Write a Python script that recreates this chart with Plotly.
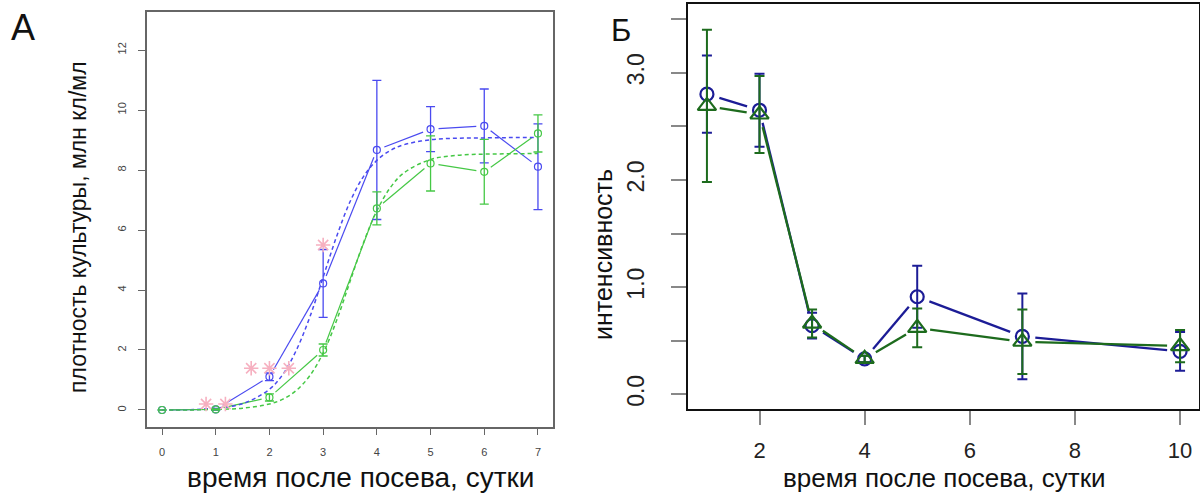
import math
import plotly.graph_objects as go

# ---------------- Panel A data ----------------
days_a = [0, 1, 2, 3, 4, 5, 6, 7]
blue_a = [0.0, 0.02, 1.11, 4.22, 8.67, 9.36, 9.47, 8.11]
blue_a_err = [0.0, 0.03, 0.13, 1.13, 2.32, 0.75, 1.23, 1.43]
green_a = [0.0, 0.02, 0.42, 2.0, 6.72, 8.22, 7.94, 9.22]
green_a_err = [0.0, 0.02, 0.12, 0.2, 0.55, 0.92, 1.08, 0.62]

fit_x = [0, 0.5, 1, 1.5, 2, 2.25, 2.5, 2.75, 3, 3.25, 3.5, 3.75, 4, 4.25, 4.5, 5, 5.5, 6, 6.5, 7]
blue_fit = [0.0, 0.01, 0.06, 0.21, 0.69, 1.19, 1.99, 3.09, 4.43, 5.78, 6.94, 7.78, 8.32, 8.65,
            8.84, 9.01, 9.06, 9.07, 9.08, 9.08]
green_fit = [0.0, 0.0, 0.02, 0.06, 0.20, 0.36, 0.65, 1.14, 1.90, 2.98, 4.28, 5.57, 6.64, 7.41,
             7.90, 8.35, 8.49, 8.53, 8.54, 8.55]

star_x = [0.82, 1.18, 1.66, 2.0, 2.36, 3.0]
star_y = [0.2, 0.2, 1.39, 1.39, 1.39, 5.5]

a_xticks = [0, 1, 2, 3, 4, 5, 6, 7]
a_yticks = [0, 2, 4, 6, 8, 10, 12]

# ---------------- Panel B data ----------------
days_b = [1, 2, 3, 4, 5, 7, 10]
blue_b = [2.80, 2.65, 0.64, 0.33, 0.91, 0.54, 0.40]
blue_b_err = [0.36, 0.34, 0.12, 0.03, 0.29, 0.40, 0.18]
green_b = [2.69, 2.61, 0.66, 0.33, 0.62, 0.49, 0.45]
green_b_err = [0.71, 0.36, 0.13, 0.03, 0.18, 0.30, 0.15]

b_xticks = [2, 4, 6, 8, 10]
b_yticks = [0, 0.5, 1, 1.5, 2, 2.5, 3, 3.5]
b_yticktext = ["0.0", "", "1.0", "", "2.0", "", "3.0", ""]

FONT = "Liberation Sans, Arial, sans-serif"
A_BLUE = "#4a4af0"
A_GREEN = "#45c845"
B_BLUE = "#1c1c96"
B_GREEN = "#1d6b1d"
PINK = "#f6b0c0"

W, H = 1200, 494

# axis geometry (pixels)
A_X0, A_X1, A_YB, A_YT = 147, 553, 427, 12
B_X0, B_X1, B_YB, B_YT = 688, 1199, 409.3, 4
A_XR, A_YR = [-0.28, 7.28], [-0.567, 13.267]
B_XR, B_YR = [0.64, 10.36], [-0.14, 3.641]


def scale(px0, px1, r):
    return abs(px1 - px0) / (r[1] - r[0])


def gapped(xs, ys, sx, sy, gap):
    """R type='b' style: line segments with a gap around each point."""
    gx, gy = [], []
    for i in range(len(xs) - 1):
        x0, y0, x1, y1 = xs[i], ys[i], xs[i + 1], ys[i + 1]
        L = math.hypot((x1 - x0) * sx, (y1 - y0) * sy)
        if L <= 2 * gap:
            continue
        f = gap / L
        gx += [x0 + (x1 - x0) * f, x1 - (x1 - x0) * f, None]
        gy += [y0 + (y1 - y0) * f, y1 - (y1 - y0) * f, None]
    return gx, gy


fig = go.Figure()

# ---- Panel A ----
asx, asy = scale(A_X0, A_X1, A_XR), scale(A_YB, A_YT, A_YR)
for ys, col in [(blue_a, A_BLUE), (green_a, A_GREEN)]:
    gx, gy = gapped(days_a, ys, asx, asy, 8)
    fig.add_trace(go.Scatter(x=gx, y=gy, mode="lines", line=dict(color=col, width=1.2),
                             xaxis="x", yaxis="y", hoverinfo="skip"))
for ys, col in [(blue_fit, A_BLUE), (green_fit, A_GREEN)]:
    fig.add_trace(go.Scatter(x=fit_x, y=ys, mode="lines", line=dict(color=col, width=1.5, dash="4px,3px",
                                                                     shape="spline"),
                             xaxis="x", yaxis="y", hoverinfo="skip"))
for ys, es, col in [(blue_a, blue_a_err, A_BLUE), (green_a, green_a_err, A_GREEN)]:
    fig.add_trace(go.Scatter(x=days_a, y=ys, mode="markers",
                             marker=dict(symbol="circle-open", size=7, color=col, line=dict(width=1.2, color=col)),
                             error_y=dict(type="data", array=es, visible=True, color=col, thickness=1.3, width=4.5),
                             xaxis="x", yaxis="y"))
fig.add_trace(go.Scatter(x=star_x, y=star_y, mode="markers",
                         marker=dict(symbol="asterisk-open", size=12, color=PINK, line=dict(width=1.6, color=PINK)),
                         xaxis="x", yaxis="y"))

# ---- Panel B ----
bsx, bsy = scale(B_X0, B_X1, B_XR), scale(B_YB, B_YT, B_YR)
for ys, col in [(blue_b, B_BLUE), (green_b, B_GREEN)]:
    gx, gy = gapped(days_b, ys, bsx, bsy, 13)
    fig.add_trace(go.Scatter(x=gx, y=gy, mode="lines", line=dict(color=col, width=2.3),
                             xaxis="x2", yaxis="y2", hoverinfo="skip"))
fig.add_trace(go.Scatter(x=days_b, y=blue_b, mode="markers",
                         marker=dict(symbol="circle-open", size=13, color=B_BLUE, line=dict(width=2.2, color=B_BLUE)),
                         error_y=dict(type="data", array=blue_b_err, visible=True, color=B_BLUE, thickness=2, width=5),
                         xaxis="x2", yaxis="y2"))
fig.add_trace(go.Scatter(x=days_b, y=green_b, mode="markers",
                         marker=dict(symbol="triangle-up-open", size=16, color=B_GREEN,
                                     line=dict(width=2.2, color=B_GREEN)),
                         error_y=dict(type="data", array=green_b_err, visible=True, color=B_GREEN, thickness=2, width=5),
                         xaxis="x2", yaxis="y2"))


def px_x(p):
    return p / W


def px_y(p):
    return 1 - p / H


fig.update_layout(
    width=W, height=H, margin=dict(l=0, r=0, t=0, b=0),
    paper_bgcolor="white", plot_bgcolor="white", showlegend=False,
    font=dict(family=FONT, color="#222"),
    xaxis=dict(domain=[px_x(A_X0), px_x(A_X1)], range=A_XR, tickvals=a_xticks,
               showline=True, mirror=True, linecolor="#666", linewidth=1.5,
               ticks="outside", ticklen=6, tickcolor="#666", tickwidth=1,
               showgrid=False, zeroline=False, tickfont=dict(size=11, color="#444"),
               ticklabelstandoff=8),
    yaxis=dict(domain=[px_y(A_YB), px_y(A_YT)], range=A_YR, tickvals=a_yticks,
               showline=True, mirror=True, linecolor="#666", linewidth=1.5,
               ticks="outside", ticklen=7, tickcolor="#666", tickwidth=1,
               showgrid=False, zeroline=False, tickfont=dict(size=11, color="#444"),
               tickangle=-90, ticklabelstandoff=8),
    xaxis2=dict(domain=[px_x(B_X0), px_x(B_X1)], range=B_XR, tickvals=b_xticks,
                showline=True, mirror=True, linecolor="#111", linewidth=2,
                ticks="outside", ticklen=14, tickcolor="#888", tickwidth=1.5,
                showgrid=False, zeroline=False, tickfont=dict(size=22, color="#222"),
                ticklabelstandoff=6, anchor="y2"),
    yaxis2=dict(domain=[px_y(B_YB), px_y(B_YT)], range=B_YR, tickvals=b_yticks,
                ticktext=b_yticktext,
                showline=True, mirror=True, linecolor="#111", linewidth=2,
                ticks="outside", ticklen=15, tickcolor="#888", tickwidth=1.5,
                showgrid=False, zeroline=False, tickfont=dict(size=23, color="#222"),
                tickangle=-90, ticklabelstandoff=18, anchor="x2"),
)

ann = [
    dict(text="А", x=px_x(23), y=px_y(28), size=36),
    dict(text="Б", x=px_x(621), y=px_y(31), size=31),
    dict(text="плотность культуры, млн кл/мл", x=px_x(78), y=px_y(227), size=23, angle=-90),
    dict(text="время после посева, сутки", x=px_x(360), y=px_y(477), size=28),
    dict(text="интенсивность", x=px_x(603), y=px_y(254), size=25, angle=-90),
    dict(text="время после посева, сутки", x=px_x(944), y=px_y(478), size=26),
]
for a in ann:
    fig.add_annotation(text=a["text"], x=a["x"], y=a["y"], xref="paper", yref="paper",
                       xanchor="center", yanchor="middle", showarrow=False,
                       textangle=a.get("angle", 0),
                       font=dict(family=FONT, size=a["size"], color="#111"))

fig.write_html("out.html")
